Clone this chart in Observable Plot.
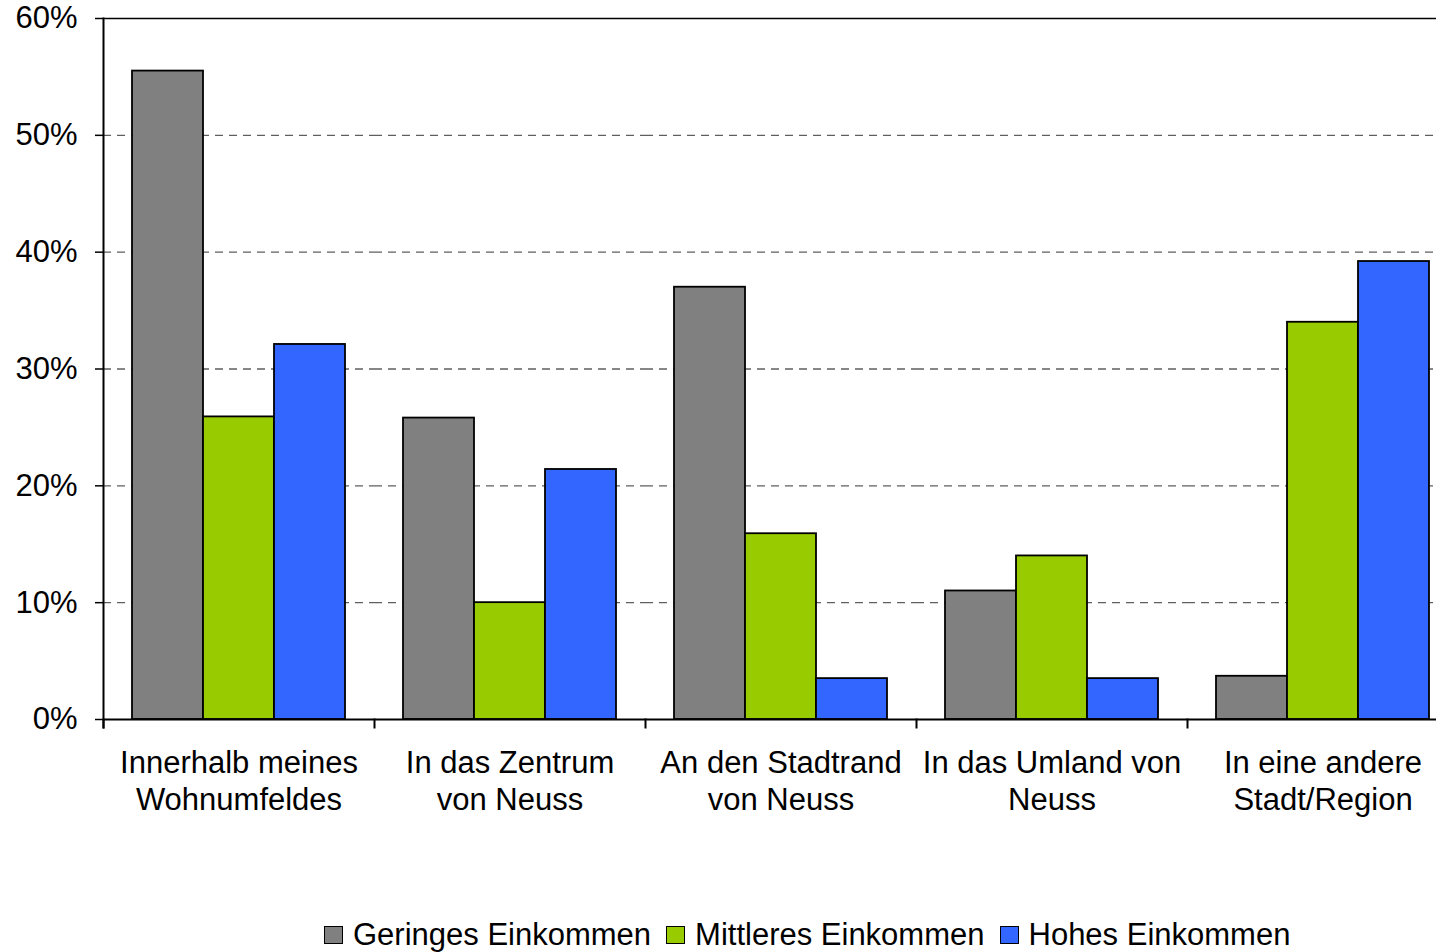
<!DOCTYPE html>
<html>
<head>
<meta charset="utf-8">
<script src="https://cdn.jsdelivr.net/npm/d3@7"></script>
<script src="https://cdn.jsdelivr.net/npm/@observablehq/plot@0.6"></script>
<style>
  html, body { margin: 0; padding: 0; background: white; overflow: hidden; }
  #wrap { position: relative; width: 1436px; height: 952px; overflow: hidden; background: white; }
  #chart { position: absolute; left: 0; top: 0; width: 1458px; }
  #legend { position: absolute; left: 324px; top: 917px; display: flex; align-items: center;
            font-family: "Liberation Sans", Arial, sans-serif; font-size: 31px; line-height: 36px; color: black; white-space: nowrap; }
  .item { display: flex; align-items: center; margin-right: 15px; }
  .sw { width: 17px; height: 16px; border: 1.5px solid black; margin-right: 10px; }
</style>
</head>
<body>
<div id="wrap">
  <div id="chart"></div>
  <div id="legend"></div>
</div>
<script>
const categories = [
  "Innerhalb meines\nWohnumfeldes",
  "In das Zentrum\nvon Neuss",
  "An den Stadtrand\nvon Neuss",
  "In das Umland von\nNeuss",
  "In eine andere\nStadt/Region"
];
const series = ["Geringes Einkommen", "Mittleres Einkommen", "Hohes Einkommen"];
const colors = ["#808080", "#99CC00", "#3366FF"];
const geringes = [55.5, 25.8, 37.0, 11.0, 3.7];
const mittleres = [25.9, 10.0, 15.9, 14.0, 34.0];
const hohes = [32.1, 21.4, 3.5, 3.5, 39.2];
const yTicks = [0, 10, 20, 30, 40, 50, 60];
const gridLines = [10, 20, 30, 40, 50];

const seriesValues = [geringes, mittleres, hohes];
const table = [];
categories.forEach((c, i) => {
  series.forEach((s, j) => table.push({category: c, series: s, value: seriesValues[j][i]}));
});

const W = 1458, H = 880;
const svg = Plot.plot({
  width: W, height: H,
  marginLeft: 103, marginRight: 0, marginTop: 18, marginBottom: 161,
  style: {fontFamily: "'Liberation Sans', Arial, sans-serif", fontSize: "31px", color: "black", background: "white", maxWidth: "none"},
  fx: {domain: categories, padding: 0, label: null},
  x: {domain: series, paddingInner: 0, paddingOuter: 0.391, axis: null},
  y: {domain: [0, 60], label: null},
  color: {domain: series, range: colors},
  marks: [
    Plot.ruleY(gridLines, {stroke: "#5f5f5f", strokeWidth: 1.4, strokeDasharray: "8,6"}),
    Plot.ruleY([60], {stroke: "black", strokeWidth: 1.5}),
    Plot.barY(table, {fx: "category", x: "series", y: "value", fill: "series", stroke: "black", strokeWidth: 1.8}),
    Plot.ruleY([0], {stroke: "black", strokeWidth: 2}),
    Plot.frame({anchor: "left", insetTop: 701, insetBottom: -8, stroke: "black", strokeWidth: 2}),
    Plot.frame({anchor: "left", facetAnchor: "left", insetBottom: -8, stroke: "black", strokeWidth: 2}),
    Plot.axisY({ticks: yTicks, tickSize: 8, tickPadding: 18, tickFormat: d => d + "%", fontSize: 31, label: null, stroke: "black", strokeWidth: 1.5}),
    Plot.axisFx({anchor: "bottom", tickSize: 0, tickPadding: 27, fontSize: 31, lineHeight: 1.2, label: null})
  ]
});
svg.style.maxWidth = "none";
document.getElementById("chart").appendChild(svg);

const legend = document.getElementById("legend");
series.forEach((s, i) => {
  const item = document.createElement("div");
  item.className = "item";
  const sw = document.createElement("div");
  sw.className = "sw";
  sw.style.background = colors[i];
  const t = document.createElement("span");
  t.textContent = s;
  item.appendChild(sw);
  item.appendChild(t);
  legend.appendChild(item);
});
</script>
</body>
</html>
